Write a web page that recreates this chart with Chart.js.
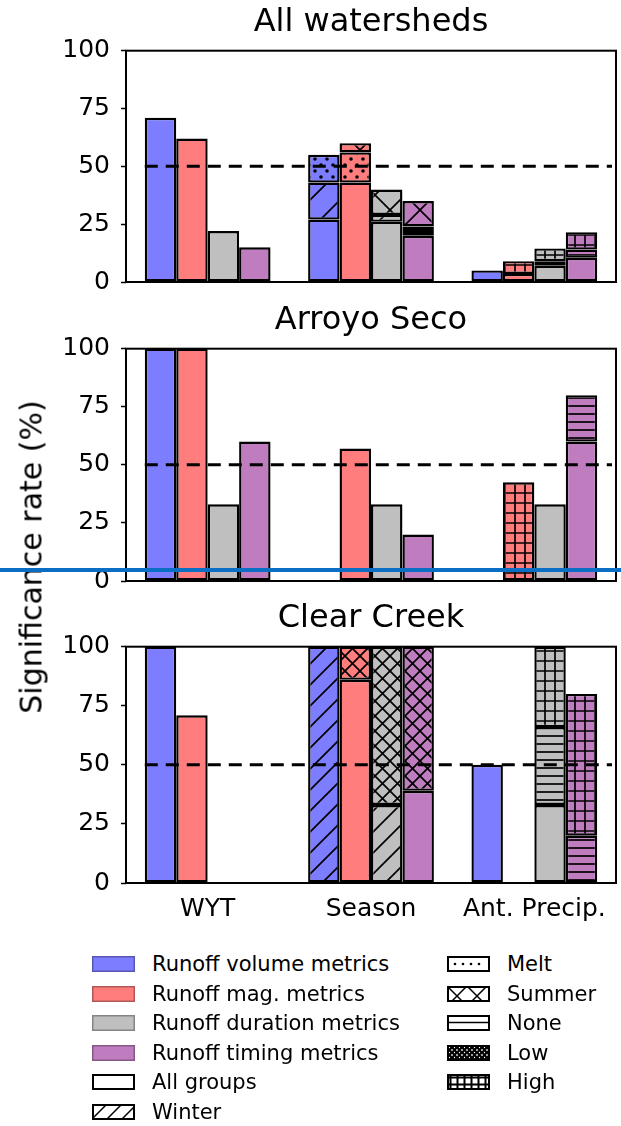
<!DOCTYPE html>
<html>
<head>
<meta charset="utf-8">
<script src="https://cdn.jsdelivr.net/npm/chart.js@4.4.1/dist/chart.umd.min.js"></script>
<style>
  body { margin: 0; background: #fff; width: 621px; height: 1126px; position: relative; overflow: hidden;
         font-family: "DejaVu Sans", sans-serif; color: #000; }
  canvas { position: absolute; left: 0; }
  #ylab { position: absolute; left: 31px; top: 557px; transform: translate(-50%, -50%) rotate(-90deg);
          white-space: nowrap; font-size: 30px; }
  #blueline { position: absolute; left: 0; top: 568px; width: 621px; height: 4px; background: #0a6fc4; z-index: 10; }
  .leg { position: absolute; height: 20px; display: flex; align-items: center; font-size: 21px; white-space: nowrap; }
  .leg canvas { position: static; margin-right: 17px; }
</style>
</head>
<body>
<canvas id="c1" width="621" height="308" style="top:0px"></canvas>
<canvas id="c2" width="621" height="309" style="top:298px"></canvas>
<canvas id="c3" width="621" height="337" style="top:596px"></canvas>
<div id="ylab">Significance rate (%)</div>
<div id="blueline"></div>
<div id="legend"></div>
<script>
// categories and groups
const xLabels = ['WYT', 'Season', 'Ant. Precip.'];
const metricNames = ['Runoff volume metrics', 'Runoff mag. metrics', 'Runoff duration metrics', 'Runoff timing metrics'];
const segNames = ['All groups', 'Winter', 'Melt', 'Summer', 'None', 'Low', 'High'];

// each metric: one row per segment (All groups, Winter, Melt, Summer, None, Low, High), columns = xLabels
const allVolume   = [[71, 27, 5], [0, 16, 0], [0, 12, 0], [0, 0, 0], [0, 0, 0], [0, 0, 0], [0, 0, 0]];
const allMag      = [[62, 43, 3.5], [0, 0, 0], [0, 13, 0], [0, 4, 0], [0, 0, 0], [0, 0, 0], [0, 0, 5.5]];
const allDuration = [[22, 26, 7], [0, 3, 0], [0, 0, 0], [0, 11, 0], [0, 0, 2], [0, 0, 0], [0, 0, 5.5]];
const allTiming   = [[15, 20, 10.5], [0, 2, 0], [0, 2, 0], [0, 11, 0], [0, 0, 3.5], [0, 0, 0], [0, 0, 7.5]];

const arroyoVolume   = [[100, 0, 0], [0, 0, 0], [0, 0, 0], [0, 0, 0], [0, 0, 0], [0, 0, 0], [0, 0, 0]];
const arroyoMag      = [[100, 57, 0], [0, 0, 0], [0, 0, 0], [0, 0, 0], [0, 0, 0], [0, 0, 0], [0, 0, 42.5]];
const arroyoDuration = [[33, 33, 33], [0, 0, 0], [0, 0, 0], [0, 0, 0], [0, 0, 0], [0, 0, 0], [0, 0, 0]];
const arroyoTiming   = [[60, 20, 60], [0, 0, 0], [0, 0, 0], [0, 0, 0], [0, 0, 20], [0, 0, 0], [0, 0, 0]];

const clearVolume   = [[100, 0, 50], [0, 100, 0], [0, 0, 0], [0, 0, 0], [0, 0, 0], [0, 0, 0], [0, 0, 0]];
const clearMag      = [[71, 86, 0], [0, 0, 0], [0, 0, 0], [0, 14, 0], [0, 0, 0], [0, 0, 0], [0, 0, 0]];
const clearDuration = [[0, 0, 33], [0, 33, 0], [0, 0, 0], [0, 67, 0], [0, 0, 33], [0, 0, 0], [0, 0, 34]];
const clearTiming   = [[0, 39, 0], [0, 0, 0], [0, 0, 0], [0, 61, 0], [0, 0, 20], [0, 0, 0], [0, 0, 60]];

const threshold = 50;

// styles
const metricColors = ['#7d7dff', '#ff7d7d', '#bfbfbf', '#bf7dbf'];
const segHatch = [null, '/', '.', 'x', '-', 'o', '+'];

function makePattern(color, kind, s, lw, dotR) {
  const c = document.createElement('canvas');
  c.width = s; c.height = s;
  const g = c.getContext('2d');
  g.fillStyle = color;
  g.fillRect(0, 0, s, s);
  g.strokeStyle = '#000';
  g.fillStyle = '#000';
  g.lineWidth = lw;
  g.beginPath();
  if (kind === '/' || kind === 'x') {
    g.moveTo(-1, s + 1); g.lineTo(s + 1, -1);
    g.moveTo(-2, 2); g.lineTo(2, -2);
    g.moveTo(s - 2, s + 2); g.lineTo(s + 2, s - 2);
  }
  if (kind === 'x') {
    g.moveTo(-1, -1); g.lineTo(s + 1, s + 1);
    g.moveTo(s - 2, -2); g.lineTo(s + 2, 2);
    g.moveTo(-2, s - 2); g.lineTo(2, s + 2);
  }
  if (kind === '-' || kind === '+') { g.moveTo(0, s / 2); g.lineTo(s, s / 2); }
  if (kind === '+') { g.moveTo(s / 2, 0); g.lineTo(s / 2, s); }
  if (kind === 'o') { g.moveTo(s / 2 + s / 3, s / 2); g.arc(s / 2, s / 2, s / 3, 0, Math.PI * 2); }
  g.stroke();
  if (kind === '.') {
    const r = dotR || 1.8;
    g.beginPath();
    g.arc(s / 4, s / 4, r, 0, Math.PI * 2);
    g.moveTo(3 * s / 4 + r, 3 * s / 4);
    g.arc(3 * s / 4, 3 * s / 4, r, 0, Math.PI * 2);
    g.fill();
  }
  return g.createPattern(c, 'repeat');
}

function fillFor(color, kind, sizes) {
  if (!kind) return color;
  return makePattern(color, kind, sizes[kind], 1.7);
}

const framePlugin = {
  id: 'frame',
  afterDatasetsDraw(chart) {
    const { ctx, chartArea: a, scales: { x, y } } = chart;
    const yy = y.getPixelForValue(threshold);
    const half = (x.width / xLabels.length) * 0.77 / 2;
    ctx.save();
    ctx.strokeStyle = '#000';
    ctx.setLineDash([13, 8]);
    ctx.lineWidth = 3;
    ctx.beginPath();
    ctx.moveTo(x.getPixelForValue(0) - half, yy);
    ctx.lineTo(a.right - 4, yy);
    ctx.stroke();
    ctx.setLineDash([]);
    ctx.lineWidth = 2;
    ctx.strokeRect(a.left, a.top, a.right - a.left, a.bottom - a.top);
    ctx.restore();
  }
};

function buildPanel(id, title, metrics, sizes, showX) {
  const datasets = [];
  metrics.forEach((rows, m) => {
    rows.forEach((vals, s) => {
      datasets.push({
        label: metricNames[m] + ' - ' + segNames[s],
        stack: 'm' + m,
        data: vals.map(v => v || null),
        backgroundColor: fillFor(metricColors[m], segHatch[s], sizes),
        borderColor: '#000',
        borderWidth: 2.4,
        borderSkipped: false,
        categoryPercentage: 0.77,
        barPercentage: 1
      });
    });
  });
  new Chart(document.getElementById(id), {
    type: 'bar',
    data: { labels: xLabels, datasets: datasets },
    plugins: [framePlugin],
    options: {
      responsive: false,
      animation: false,
      layout: { padding: { left: 0, right: 5, top: 0, bottom: 0 } },
      plugins: {
        legend: { display: false },
        tooltip: { enabled: false },
        title: {
          display: true, text: title, color: '#000',
          fullSize: false, // centre over the plot frame, not the whole canvas
          font: { family: 'DejaVu Sans', size: 32, weight: 'normal', lineHeight: 1.2 },
          padding: { top: 3, bottom: 9.3 }
        }
      },
      scales: {
        x: {
          stacked: true,
          grid: { display: false },
          border: { display: false },
          ticks: { display: showX, color: '#000', font: { family: 'DejaVu Sans', size: 25 }, padding: 3, maxRotation: 0 },
          afterFit: s => { s.height = showX ? 50 : 20; }
        },
        y: {
          stacked: true, min: 0, max: 100,
          ticks: { stepSize: 25, color: '#000', font: { family: 'DejaVu Sans', size: 25 }, padding: 11 },
          grid: { drawOnChartArea: false, tickLength: 5, tickWidth: 1.5, color: '#000' },
          border: { display: false },
          afterFit: s => { s.width = 126; }
        }
      }
    }
  });
}

buildPanel('c1', 'All watersheds', [allVolume, allMag, allDuration, allTiming],
  { '/': 30, '.': 12, 'x': 30, '-': 6, 'o': 6, '+': 10 }, false);
buildPanel('c2', 'Arroyo Seco', [arroyoVolume, arroyoMag, arroyoDuration, arroyoTiming],
  { '/': 20, '.': 10, 'x': 15, '-': 8, 'o': 6, '+': 10 }, false);
buildPanel('c3', 'Clear Creek', [clearVolume, clearMag, clearDuration, clearTiming],
  { '/': 21, '.': 10, 'x': 15, '-': 8, 'o': 6, '+': 10 }, true);

// legend
const legSizes = { '/': 15, '.': 9, 'x': 20, '-': 15, 'o': 5, '+': 7 };
const legend = document.getElementById('legend');
function addItem(x, y, text, drawSwatch) {
  const d = document.createElement('div');
  d.className = 'leg';
  d.style.left = x + 'px';
  d.style.top = (y - 10) + 'px';
  const c = document.createElement('canvas');
  c.width = 43; c.height = 16;
  drawSwatch(c.getContext('2d'));
  d.appendChild(c);
  const sp = document.createElement('span');
  sp.textContent = text;
  d.appendChild(sp);
  legend.appendChild(d);
}
const rowY = i => 964 + 29.5 * i;
metricNames.forEach((name, m) => {
  addItem(92, rowY(m), name, g => {
    g.fillStyle = metricColors[m];
    g.fillRect(0, 0, 43, 16);
    g.strokeStyle = 'rgba(0,0,0,0.3)';
    g.lineWidth = 1.5;
    g.strokeRect(0.75, 0.75, 41.5, 14.5);
  });
});
segNames.forEach((name, s) => {
  const left = s < 2;
  const row = left ? 4 + s : s - 2;
  const kind = segHatch[s];
  addItem(left ? 92 : 447, rowY(row), name, g => {
    if (kind === '.') {
      g.fillStyle = '#fff';
      g.fillRect(0, 0, 43, 16);
      g.fillStyle = '#000';
      for (let px = 8; px < 40; px += 8) { g.beginPath(); g.arc(px, 8, 1.3, 0, Math.PI * 2); g.fill(); }
    } else {
      g.fillStyle = kind ? makePattern('#fff', kind, legSizes[kind], kind === '+' || kind === 'o' ? 2 : 1.5) : '#fff';
      g.fillRect(0, 0, 43, 16);
    }
    g.strokeStyle = '#000';
    g.lineWidth = 2;
    g.strokeRect(1, 1, 41, 14);
  });
});
</script>
</body>
</html>
